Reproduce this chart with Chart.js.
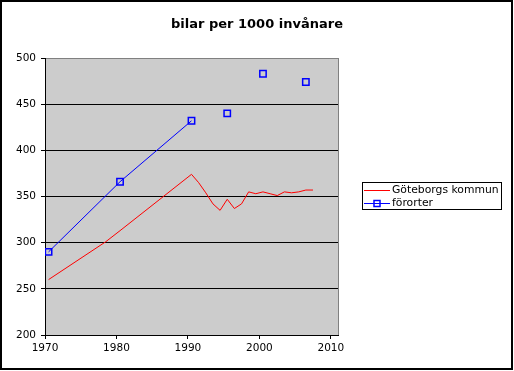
<!DOCTYPE html>
<html lang="sv">

<head>
    <meta charset="UTF-8">
    <title>bilar per 1000 invånare</title>
    <style>
        body { margin: 0; background: #fff; }
    </style>
</head>

<body>
    <canvas id="myChart" width="514" height="371"></canvas>

    <script src="https://cdn.jsdelivr.net/npm/chart.js"></script>
    <script type="text/javascript">
        // values (points sit at mid-year)
        const kommunYears = [1970.5, 1978.5, 1980.5, 1990.5, 1991.5, 1992.5, 1993.5, 1994.5, 1995.5, 1996.5,
            1997.5, 1998.5, 1999.5, 2000.5, 2001.5, 2002.5, 2003.5, 2004.5, 2005.5, 2006.5, 2007.5];
        const kommunCars = [260, 301, 313, 374, 365, 354, 342, 335, 347, 337,
            342, 355, 353, 355, 353, 351, 355, 354, 355, 357, 357];

        const fororterYears = [1970.5, 1980.5, 1990.5, 1995.5, 2000.5, 2006.5];
        const fororterCars = [290, 366, 432, 440, 483, 474];

        const xTicks = [1970, 1980, 1990, 2000, 2010];
        const seriesNames = ['Göteborgs kommun', 'förorter'];
        const chartTitle = 'bilar per 1000 invånare';

        const font = 'DejaVu Sans';
        const ctx = document.getElementById('myChart');

        const toPoints = (xs, ys) => xs.map((x, i) => ({ x: x, y: ys[i] }));

        // white page, grey plot area, frame, title and the boxed legend
        const excelLook = {
            id: 'excelLook',
            beforeDraw(chart) {
                const c = chart.ctx, a = chart.chartArea;
                c.save();
                c.fillStyle = '#fff';
                c.fillRect(0, 0, chart.width, chart.height);
                c.fillStyle = '#cccccc';
                c.fillRect(a.left, a.top, a.right - a.left, a.bottom - a.top);
                c.restore();
            },
            beforeDatasetsDraw(chart) {
                const c = chart.ctx, a = chart.chartArea;
                c.save();
                c.strokeStyle = '#808080';
                c.lineWidth = 1;
                c.beginPath();
                c.moveTo(Math.round(a.right) + 0.5, a.top);
                c.lineTo(Math.round(a.right) + 0.5, a.bottom);
                c.stroke();
                c.restore();
            },
            afterDraw(chart) {
                const c = chart.ctx;
                c.save();
                // outer frame
                c.strokeStyle = '#000';
                c.lineWidth = 2;
                c.strokeRect(1, 1, 511, 368);

                // title, centred on the whole picture
                c.fillStyle = '#000';
                c.font = 'bold 13px "' + font + '"';
                c.textAlign = 'center';
                c.textBaseline = 'middle';
                c.fillText(chartTitle, 257, 25);

                // legend box
                c.textAlign = 'left';
                c.lineWidth = 1;
                c.fillStyle = '#fff';
                c.fillRect(362.5, 182.5, 139, 27);
                c.strokeRect(362.5, 182.5, 139, 27);

                c.font = '10.8px "' + font + '"';
                c.fillStyle = '#000';

                c.strokeStyle = '#ff0000';
                c.beginPath();
                c.moveTo(364, 190.5);
                c.lineTo(390, 190.5);
                c.stroke();
                c.fillText(seriesNames[0], 392, 190);

                c.strokeStyle = '#0000ff';
                c.beginPath();
                c.moveTo(364, 203.5);
                c.lineTo(390, 203.5);
                c.stroke();
                c.lineWidth = 1.5;
                c.strokeRect(374, 200.5, 6, 6);
                c.fillText(seriesNames[1], 392, 203);
                c.restore();
            }
        };

        let graphData = {
            type: 'scatter',
            data: {
                datasets: [{
                    label: seriesNames[0],
                    data: toPoints(kommunYears, kommunCars),
                    showLine: true,
                    borderColor: '#ff0000',
                    borderWidth: 1,
                    pointRadius: 0,
                    tension: 0
                }, {
                    label: seriesNames[1],
                    data: toPoints(fororterYears, fororterCars),
                    showLine: true,
                    borderColor: '#0000ff',
                    borderWidth: 1,
                    segment: {
                        borderColor: s => s.p0DataIndex >= 2 ? 'transparent' : '#0000ff'
                    },
                    pointStyle: 'rect',
                    pointRadius: 4.5,
                    pointBorderWidth: 1.5,
                    pointBorderColor: '#0000ff',
                    pointBackgroundColor: 'transparent',
                    tension: 0
                }]
            },
            options: {
                responsive: false,
                animation: false,
                devicePixelRatio: 1,
                layout: { padding: { left: 0, right: 176, top: 58, bottom: 0 } },
                plugins: {
                    legend: { display: false },
                    tooltip: { enabled: false },
                    title: { display: false }
                },
                scales: {
                    x: {
                        type: 'linear',
                        min: 1970,
                        max: 2011,
                        afterBuildTicks: s => { s.ticks = xTicks.map(v => ({ value: v })); },
                        afterFit: s => { s.height = 36; },
                        grid: { drawOnChartArea: false, color: '#000', tickLength: 4 },
                        border: { color: '#000' },
                        ticks: {
                            color: '#000',
                            maxRotation: 0,
                            padding: 3,
                            font: { family: font, size: 10.5 },
                            callback: v => String(v)
                        }
                    },
                    y: {
                        min: 200,
                        max: 500,
                        afterFit: s => { s.width = 45; },
                        grid: {
                            color: c => c.tick && c.tick.value === 500 ? '#808080' : '#000',
                            tickColor: '#000',
                            tickLength: 4
                        },
                        border: { color: '#000' },
                        ticks: {
                            stepSize: 50,
                            color: '#000',
                            padding: 5,
                            font: { family: font, size: 10.5 }
                        }
                    }
                }
            },
            plugins: [excelLook]
        };

        let rtchart = new Chart(ctx, graphData);
    </script>
</body>

</html>
